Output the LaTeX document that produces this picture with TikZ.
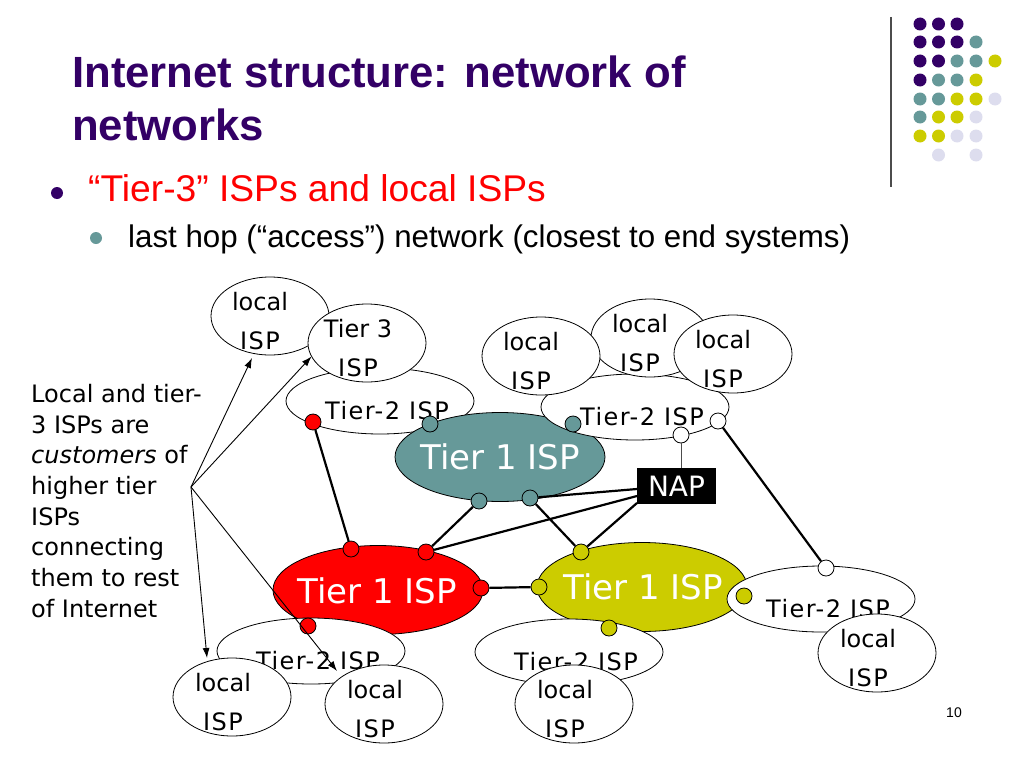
\documentclass[tikz,border=0pt]{standalone}
\usepackage{fontspec}
\setmainfont{Liberation Sans}
\newfontfamily\handfont{DejaVu Sans}
\newfontfamily\handwide[LetterSpace=6]{DejaVu Sans}
\usetikzlibrary{shapes.geometric, arrows.meta}
\definecolor{deeppurple}{HTML}{330066}
\definecolor{slideteal}{HTML}{669999}
\definecolor{slideolive}{HTML}{CCCC00}
\definecolor{slidelilac}{HTML}{DDDDEE}
\tikzset{
  localoval/.style={draw, line width=0.8pt, ellipse, fill=white, inner sep=0, minimum width=118pt, minimum height=78pt},
  tiertwo/.style={draw, line width=0.8pt, ellipse, fill=white, inner sep=0, minimum width=188pt, minimum height=66pt},
  tierone/.style={draw, line width=0.8pt, ellipse, fill=#1, inner sep=0, minimum width=210pt, minimum height=89pt},
  hand/.style={font=\handfont\fontsize{24}{30.7}\selectfont},
  handw/.style={font=\handwide\fontsize{24}{30.7}\selectfont},
  bigwhite/.style={text=white, font=\handfont\fontsize{34}{40}\selectfont},
  port/.style={draw, line width=0.8pt, circle, fill=#1, inner sep=0, minimum size=16pt},
  link/.style={line width=2.2pt},
  titletext/.style={anchor=base west, inner sep=0, text=deeppurple, font=\bfseries\fontsize{43.7}{53}\selectfont}
}
\begin{document}
\begin{tikzpicture}[>={Latex[length=10pt,width=7pt]}, x=1pt, y=-1pt]
  \useasboundingbox (0,0) rectangle (1024,768);
  % heading and bullets
  \node (titlea) at (72,87) [titletext] {Internet structure: network of};
  \node (titleb) at (72,140) [titletext] {networks};
  \fill [deeppurple] (57,193) circle [radius=6];
  \node (head) at (88,201) [anchor=base west, inner sep=0, text=red, font=\fontsize{37.2}{40}\selectfont] {“Tier-3” ISPs and local ISPs};
  \fill [slideteal] (96,238) circle [radius=6];
  \node (sub) at (128,247) [anchor=base west, inner sep=0, font=\fontsize{31.3}{36}\selectfont] {last hop (“access”) network (closest to end systems)};
  % corner decoration
  \draw [line width=1.2pt, black!70] (891,17) -- (891,187);
  \foreach \x/\y/\c in {920/24/deeppurple, 938.5/24/deeppurple, 957/24/deeppurple,
      920/42/deeppurple, 938.5/42/deeppurple, 957/42/deeppurple, 976/42/slideteal,
      920/61/deeppurple, 938.5/61/deeppurple, 957/61/slideteal, 976/61/slideteal, 995/61/slideolive,
      920/80/deeppurple, 938.5/80/slideteal, 957/80/slideteal, 976/80/slideolive,
      920/99/slideteal, 938.5/99/slideteal, 957/99/slideolive, 976/99/slideolive, 995/99/slidelilac,
      920/117/slideteal, 938.5/117/slideolive, 957/117/slideolive, 976/117/slidelilac,
      920/136/slideolive, 938.5/136/slideolive, 957/136/slidelilac, 976/136/slidelilac,
      938.5/155/slidelilac, 976/155/slidelilac}
    \fill [\c] (\x,\y) circle [radius=6.5];
  % upper ovals
  \node (locala) at (270,316) [localoval] {};
  \node (localatext) at (260,302) [hand] {local};
  \node (localatextb) at (260,341) [handw] {ISP};
  \node (tiertwoa) at (380,401) [tiertwo] {};
  \node (tiertwoatext) at (387,411) [handw] {Tier-2 ISP};
  \node (tierthree) at (367,343) [localoval] {};
  \node (tierthreetext) at (358,329) [hand] {Tier 3};
  \node (tierthreetextb) at (358,368) [handw] {ISP};
  \node (teal) at (500,457) [tierone=slideteal] {};
  \node (tealtext) at (500,457) [bigwhite] {Tier 1 ISP};
  \node (tiertwob) at (635,407) [tiertwo] {};
  \node (tiertwobtext) at (642,417) [handw] {Tier-2 ISP};
  \foreach \name/\x/\y in {localc/650/338, localb/541/356, locald/733/354} {
    \node (\name) at (\x,\y) [localoval] {};
    \node (\name text) at (\x-10,\y-14) [hand] {local};
    \node (\name textb) at (\x-10,\y+25) [handw] {ISP};
  }
  % lower ovals
  \node (red) at (378,590) [tierone=red] {};
  \node (redtext) at (377,591) [bigwhite] {Tier 1 ISP};
  \node (olive) at (642,587) [tierone=slideolive] {};
  \node (olivetext) at (643,587) [bigwhite] {Tier 1 ISP};
  \node (tiertwoc) at (311,651) [tiertwo] {};
  \node (tiertwoctext) at (318,661) [handw] {Tier-2 ISP};
  \node (tiertwod) at (569,652) [tiertwo] {};
  \node (tiertwodtext) at (576,662) [handw] {Tier-2 ISP};
  \node (tiertwoe) at (821,599) [tiertwo] {};
  \node (tiertwoetext) at (828,609) [handw] {Tier-2 ISP};
  \foreach \name/\x/\y in {locale/877/653, localf/232/697, localg/384/704, localh/574/704} {
    \node (\name) at (\x,\y) [localoval] {};
    \node (\name text) at (\x-9,\y-14) [hand] {local};
    \node (\name textb) at (\x-9,\y+25) [handw] {ISP};
  }
  \node (nap) at (676.5,486) [fill=black, text=white, minimum width=79pt, minimum height=36pt, inner sep=0,
    font=\handfont\fontsize{28}{32}\selectfont] {NAP};
  % ports
  \node (pa) at (313,422) [port=red] {};
  \node (pb) at (351,549) [port=red] {};
  \node (pc) at (426,552) [port=red] {};
  \node (pd) at (481,588) [port=red] {};
  \node (pe) at (308,626) [port=red] {};
  \node (qa) at (430,424) [port=slideteal] {};
  \node (qb) at (573,424) [port=slideteal] {};
  \node (qc) at (479,501) [port=slideteal] {};
  \node (qd) at (530,498) [port=slideteal] {};
  \node (ra) at (581,552) [port=slideolive] {};
  \node (rb) at (539,587) [port=slideolive] {};
  \node (rc) at (744,596) [port=slideolive] {};
  \node (rd) at (609,628) [port=slideolive] {};
  \node (wa) at (681,435) [port=white] {};
  \node (wb) at (718,421) [port=white] {};
  \node (wc) at (826,568) [port=white] {};
  % links
  \coordinate (napa) at (637,489);
  \coordinate (napb) at (637,496);
  \coordinate (napc) at (637,503);
  \draw [link] (pa) -- (pb);
  \draw [link] (qc) -- (pc);
  \draw [link] (qd) -- (ra);
  \draw [link] (pc) -- (napb);
  \draw [link] (qd) -- (napa);
  \draw [link] (ra) -- (napc);
  \draw [link] (pd) -- (rb);
  \draw [link] (wb) -- (wc);
  \draw [line width=1pt, black!70] (wa) -- (wa |- nap.north);
  % note and its arrows
  \node (note) at (31,384) [anchor=north west, inner sep=0, align=left, hand] {Local and tier-\\3 ISPs are\\\emph{customers} of\\higher tier\\ISPs\\connecting\\them to rest\\of Internet};
  \coordinate (cust) at (191,487);
  \coordinate (tipa) at (252,358);
  \coordinate (tipb) at (311.5,356.5);
  \coordinate (tipc) at (207,658);
  \coordinate (tipd) at (337,671);
  \draw [->, line width=0.9pt] (cust) -- (tipa);
  \draw [->, line width=0.9pt] (cust) -- (tipb);
  \draw [->, line width=0.9pt] (cust) -- (tipc);
  \draw [->, line width=0.9pt] (cust) -- (tipd);
  \node (pagenum) at (954,713) [font=\fontsize{14}{16}\selectfont] {10};
\end{tikzpicture}
\end{document}
